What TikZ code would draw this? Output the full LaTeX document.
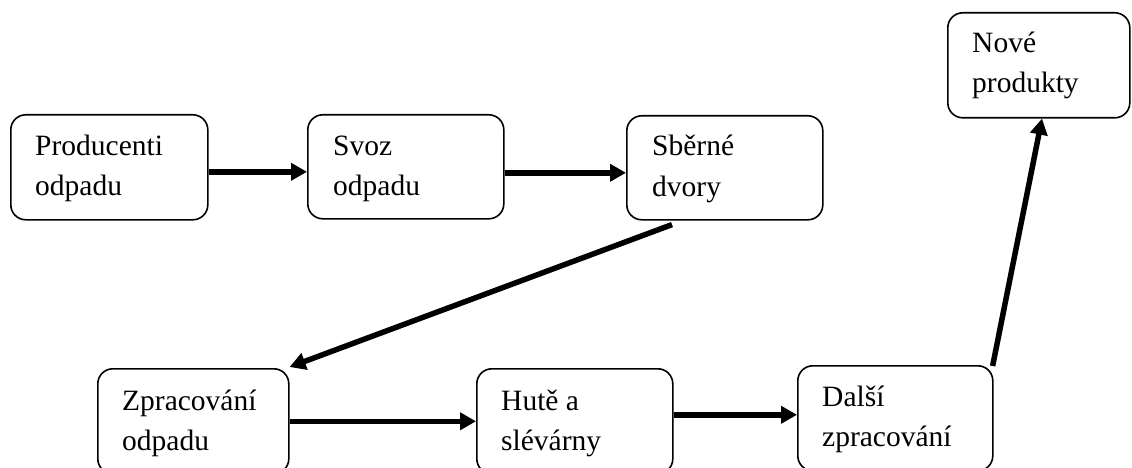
\documentclass[tikz,border=0pt]{standalone}
\usepackage{fontspec}
\setmainfont{Liberation Serif}
\usetikzlibrary{arrows.meta,calc}

\tikzset{
  box/.style={draw=black, line width=1.6pt, rounded corners=15pt, fill=white,
              anchor=north west, inner sep=0pt},
  % anchored at the baseline of the second (last) line
  lbl/.style={anchor=base west, align=left, inner sep=0pt,
              font=\fontsize{29.5}{40}\selectfont},
  flow/.style={line width=5.5pt, -{Triangle[length=16pt,width=17pt]}}
}

\newcommand{\stage}[5]{%
  % #1 name, #2 x, #3 y, #4 width, #5 height
  \node[box, minimum width=#4pt, minimum height=#5pt] (#1) at (#2,#3) {};
}

\begin{document}
\begin{tikzpicture}[x=1pt,y=-1pt]
  \useasboundingbox (0,0) rectangle (1132,468);
  \clip (0,0) rectangle (1132,468);

  % boxes of the recycling chain
  \stage{p}{10}{114}{197}{105}
  \stage{s}{307}{114}{196}{104}
  \stage{d}{626}{115}{196}{104}
  \stage{n}{947}{12}{182}{105}
  \stage{z}{97}{368}{191}{105}
  \stage{h}{476}{368}{196}{105}
  \stage{k}{797}{365}{195}{105}

  % their labels
  \node[lbl] (tp) at ($(p.north west)+(25,81)$) {Producenti\\odpadu};
  \node[lbl] (ts) at ($(s.north west)+(26,81)$) {Svoz\\odpadu};
  \node[lbl] (td) at ($(d.north west)+(26,81)$) {Sběrné\\dvory};
  \node[lbl] (tn) at ($(n.north west)+(25,81)$) {Nové\\produkty};
  \node[lbl] (tz) at ($(z.north west)+(25,82)$) {Zpracování\\odpadu};
  \node[lbl] (th) at ($(h.north west)+(25,82)$) {Hutě a\\slévárny};
  \node[lbl] (tk) at ($(k.north west)+(25,81)$) {Další\\zpracování};

  % material flow
  \draw[flow] ($(p.east)+(0,4.5)$) -- ($(s.west)+(0,5)$);
  \draw[flow] ($(s.east)+(0,6)$) -- ($(d.west)+(0,5)$);
  \draw[flow] ($(d.south west)+(46,4)$) -- ($(z.north east)+(0,-1)$);
  \draw[flow] (z.east) -- (h.west);
  \draw[flow] ($(h.east)+(0,-6.5)$) -- ($(k.west)+(0,-3.5)$);
  \draw[flow] ($(k.north east)+(-1,1)$) -- ($(n.south west)+(95,0)$);
\end{tikzpicture}
\end{document}
